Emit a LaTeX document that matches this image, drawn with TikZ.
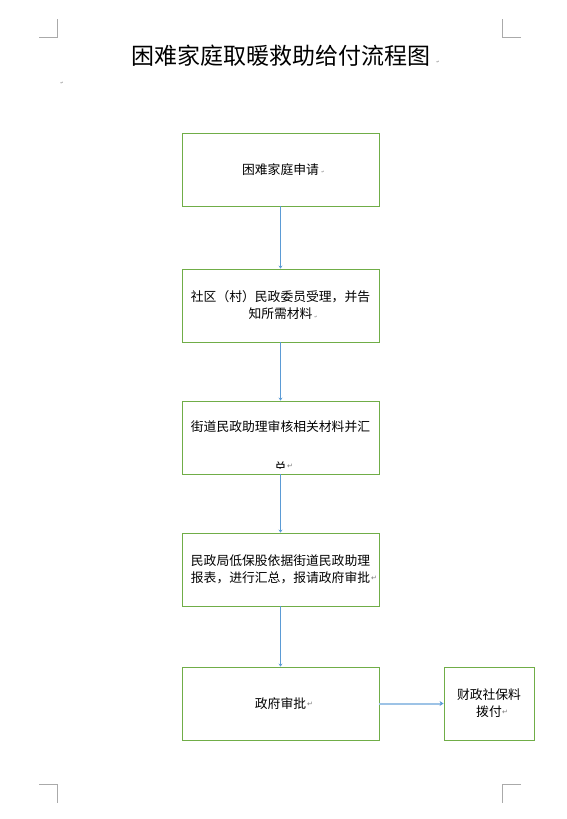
\documentclass[tikz,border=0pt]{standalone}
\usepackage{fontspec}
\usepackage{xcolor}
\usetikzlibrary{arrows.meta, positioning}
\newfontfamily\cjk{Noto Sans CJK SC}
\newfontfamily\markfont{DejaVu Sans}
\definecolor{BoxGreen}{RGB}{112,173,71}
\definecolor{LinkBlue}{RGB}{91,155,213}
\definecolor{LightBlue}{RGB}{157,195,230}
\definecolor{CropGray}{RGB}{170,170,170}
\definecolor{MarkGray}{RGB}{120,120,120}

\begin{document}
\begin{tikzpicture}[x=1pt, y=-1pt,
  stepbox/.style={draw=BoxGreen, line width=0.9pt, minimum width=197pt,
                  minimum height=73pt, inner sep=0pt},
  boxtext/.style={font=\cjk\fontsize{12.8}{17}\selectfont, align=center},
  flow/.style={LinkBlue, line width=0.8pt, -{Stealth[length=3pt, width=4pt]}},
  pilcrow/.style={MarkGray, font=\markfont\fontsize{7}{7}\selectfont, inner sep=0pt},
  tinymark/.style={MarkGray, font=\markfont\fontsize{4}{4}\selectfont, inner sep=0pt},
  crop/.style={CropGray, line width=0.8pt}]

\useasboundingbox (0,0) rectangle (566,819);

% Page corner marks
\draw[crop] (39,37) -- (57,37) -- (57,19);
\draw[crop] (521,37) -- (502,37) -- (502,19);
\draw[crop] (39,784) -- (57,784) -- (57,803);
\draw[crop] (521,784) -- (502,784) -- (502,803);

% Title
\node[font=\cjk\fontsize{23}{23}\selectfont] (title) at (280.5,56)
  {困难家庭取暖救助给付流程图};
\node[tinymark] (titlemark) at (438,62) {↵};
\node[tinymark] (parmark) at (62,83) {↵};

% Steps
\node[stepbox, boxtext] (apply) at (280.5,169.5) {困难家庭申请};
\node[stepbox, boxtext, text width=182pt] (accept) at (280.5,305.5)
  {社区（村）民政委员受理，并告\\知所需材料};
\node[stepbox] (review) at (280.5,437.5) {};
\node[boxtext] (reviewtext) at (280.5,427) {街道民政助理审核相关材料并汇};
\begin{scope}
  \clip (183,455) rectangle (378,468.5);
  \node[boxtext, anchor=base] (reviewtail) at (280.5,472.5) {总};
\end{scope}
\node[stepbox, boxtext, text width=182pt] (report) at (280.5,569.5)
  {民政局低保股依据街道民政助理\\报表，进行汇总，报请政府审批};
\node[stepbox, boxtext] (approve) at (280.5,703.5) {政府审批};
\node[stepbox, boxtext, minimum width=90pt, text width=72pt] (payout) at (489,703.5)
  {财政社保料\\拨付};

% Paragraph marks
\node[tinymark] (applymark) at (323,172) {↵};
\node[tinymark] (acceptmark) at (316,317) {↵};
\node[pilcrow] (reviewmark) at (290,466) {↵};
\node[pilcrow] (reportmark) at (374,578) {↵};
\node[pilcrow] (approvemark) at (310,704) {↵};
\node[pilcrow] (payoutmark) at (505,712) {↵};

% Connectors
\draw[flow] (apply) -- (accept);
\draw[flow] (accept) -- (review);
\draw[flow] (review) -- (report);
\draw[flow] (report) -- (approve);
\draw[LightBlue, line width=2pt, -{Stealth[length=4pt, width=5pt, color=LinkBlue]}]
  (approve) -- (payout);

\end{tikzpicture}
\end{document}
